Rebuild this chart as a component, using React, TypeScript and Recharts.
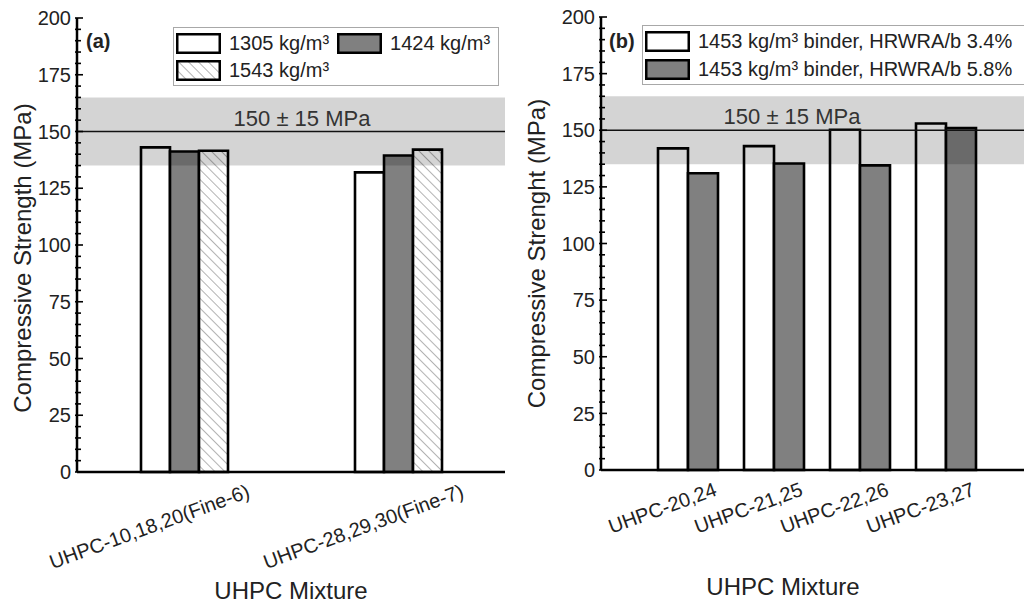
import React from "react";
import {
  BarChart,
  Bar,
  XAxis,
  YAxis,
  ReferenceArea,
  ReferenceLine,
  Legend,
  Label,
} from "recharts";

const FONT = '"Liberation Sans", Arial, Helvetica, sans-serif';

// panel (a): binder content
const mixturesA = ["UHPC-10,18,20(Fine-6)", "UHPC-28,29,30(Fine-7)"];
const binder1305 = [143, 132];
const binder1424 = [141.2, 139.4];
const binder1543 = [141.5, 142];
const namesA = ["1305 kg/m³", "1424 kg/m³", "1543 kg/m³"];

// panel (b): HRWRA dosage
const mixturesB = ["UHPC-20,24", "UHPC-21,25", "UHPC-22,26", "UHPC-23,27"];
const hrwra34 = [142, 143, 150.2, 153];
const hrwra58 = [131, 135.3, 134.5, 151];
const namesB = [
  "1453 kg/m³ binder, HRWRA/b 3.4%",
  "1453 kg/m³ binder, HRWRA/b 5.8%",
];

const strengthTicks = [
  0, 5, 10, 15, 20, 25, 30, 35, 40, 45, 50, 55, 60, 65, 70, 75, 80, 85, 90, 95,
  100, 105, 110, 115, 120, 125, 130, 135, 140, 145, 150, 155, 160, 165, 170,
  175, 180, 185, 190, 195, 200,
];
const targetStrength = 150;
const targetTolerance = 15;

const dataA = mixturesA.map((m, i) => ({
  mixture: m,
  d1305: binder1305[i],
  d1424: binder1424[i],
  d1543: binder1543[i],
}));

const dataB = mixturesB.map((m, i) => ({
  mixture: m,
  low: hrwra34[i],
  high: hrwra58[i],
}));

const WHITE = "#ffffff";
const GRAY = "#808080";
const HATCH = "url(#hatch1543)";
const axisStyle = { stroke: "#000", strokeWidth: 2.5 };
const BAR_STROKE = 2.6;

function YTick(props: any) {
  const { x, y, payload } = props;
  const major = payload.value % 25 === 0;
  return (
    <g>
      <line
        x1={x - 2}
        x2={x + (major ? 6 : 4)}
        y1={y}
        y2={y}
        stroke="#000"
        strokeWidth={1.6}
      />
      {major && (
        <text
          x={x - 6}
          y={y}
          dy="0.36em"
          textAnchor="end"
          fontSize={20}
          fontFamily={FONT}
          fill="#222"
        >
          {payload.value}
        </text>
      )}
    </g>
  );
}

function XTick(props: any) {
  const { x, y, payload, endDx } = props;
  return (
    <text
      transform={`translate(${x + endDx}, ${y + 25}) rotate(-20)`}
      textAnchor="end"
      fontSize={20}
      fontFamily={FONT}
      fill="#222"
    >
      {payload.value}
    </text>
  );
}

function BoxLegend({
  items,
  width,
  rowGap,
}: {
  items: { name: string; fill: string }[];
  width: number;
  rowGap: number;
}) {
  return (
    <div
      style={{
        width,
        boxSizing: "border-box",
        border: "1.5px solid #a8a8a8",
        background: "#fff",
        padding: "5px 0 4px 2px",
        display: "flex",
        flexWrap: "wrap",
        columnGap: 8,
        rowGap,
        fontFamily: FONT,
        fontSize: 20,
        lineHeight: "21px",
        color: "#222",
      }}
    >
      {items.map((it) => (
        <div
          key={it.name}
          style={{ display: "flex", alignItems: "center", gap: 8, whiteSpace: "nowrap" }}
        >
          <svg width={45} height={21} style={{ display: "block" }}>
            <rect
              x={1.25}
              y={1.25}
              width={42.5}
              height={18.5}
              fill={it.fill}
              stroke="#000"
              strokeWidth={2.5}
            />
          </svg>
          <span>{it.name}</span>
        </div>
      ))}
    </div>
  );
}

function targetLabel(dx: number) {
  return (props: any) => {
    const vb = props.viewBox;
    return (
      <text
        x={vb.x + vb.width / 2 + dx}
        y={vb.y - 6}
        textAnchor="middle"
        fontSize={22}
        fontFamily={FONT}
        fill="#333"
      >
        {`${targetStrength} ± ${targetTolerance} MPa`}
      </text>
    );
  };
}

function xTitle(dx: number, bottomGap: number) {
  return (props: any) => {
    const vb = props.viewBox;
    return (
      <text
        x={vb.x + vb.width / 2 + dx}
        y={vb.y + vb.height - bottomGap}
        textAnchor="middle"
        fontSize={24}
        fontFamily={FONT}
        fill="#222"
      >
        UHPC Mixture
      </text>
    );
  };
}

function yTitle(text: string, cx: number, dy: number) {
  return (props: any) => {
    const vb = props.viewBox;
    const cy = vb.y + vb.height / 2 + dy;
    return (
      <text
        transform={`translate(${cx}, ${cy}) rotate(-90)`}
        textAnchor="middle"
        dominantBaseline="central"
        fontSize={24}
        fontFamily={FONT}
        fill="#222"
      >
        {text}
      </text>
    );
  };
}

function PanelA() {
  const legendItems = [
    { name: namesA[0], fill: WHITE },
    { name: namesA[1], fill: GRAY },
    { name: namesA[2], fill: HATCH },
  ];
  return (
    <BarChart
      width={512}
      height={603}
      data={dataA}
      margin={{ top: 18, right: 7, bottom: 0, left: 0 }}
      barGap={0}
    >
      <defs>
        <pattern
          id="hatch1543"
          width={7}
          height={7}
          patternUnits="userSpaceOnUse"
          patternTransform="rotate(-45)"
        >
          <rect width={7} height={7} fill="#fff" />
          <line x1={0} y1={0} x2={0} y2={7} stroke="#8a8a8a" strokeWidth={1.3} />
        </pattern>
      </defs>
      <XAxis
        dataKey="mixture"
        height={131}
        interval={0}
        tickLine={false}
        tickSize={0}
        tickMargin={0}
        axisLine={axisStyle}
        tick={(p: any) => <XTick {...p} endDx={67} />}
      >
        <Label content={xTitle(0, 4)} />
      </XAxis>
      <XAxis
        xAxisId="top"
        dataKey="mixture"
        orientation="top"
        height={0}
        tick={false}
        tickLine={false}
        axisLine={axisStyle}
      />
      <YAxis
        width={77}
        domain={[0, 200]}
        ticks={strengthTicks}
        interval={0}
        tickLine={false}
        tickSize={0}
        tickMargin={0}
        axisLine={axisStyle}
        tick={(p: any) => <YTick {...p} />}
      >
        <Label content={yTitle("Compressive Strength (MPa)", 22, 13)} />
      </YAxis>
      <YAxis
        yAxisId="right"
        orientation="right"
        width={0}
        domain={[0, 200]}
        tick={false}
        tickLine={false}
        axisLine={axisStyle}
      />
      <Bar dataKey="d1305" name={namesA[0]} fill={WHITE} stroke="#000" strokeWidth={BAR_STROKE} barSize={29} isAnimationActive={false} />
      <Bar dataKey="d1424" name={namesA[1]} fill={GRAY} stroke="#000" strokeWidth={BAR_STROKE} barSize={29} isAnimationActive={false} />
      <Bar dataKey="d1543" name={namesA[2]} fill={HATCH} stroke="#000" strokeWidth={BAR_STROKE} barSize={29} isAnimationActive={false} />
      <ReferenceArea
        xAxisId="top"
        y1={targetStrength - targetTolerance}
        y2={targetStrength + targetTolerance}
        fill="#000"
        fillOpacity={0.17}
        stroke="none"
        zIndex={350}
      />
      <ReferenceLine
        xAxisId="top"
        y={targetStrength}
        stroke="#111"
        strokeWidth={1.6}
        zIndex={400}
        label={targetLabel(11)}
      />
      <text x={86} y={48} fontSize={20} fontWeight="bold" fontFamily={FONT} fill="#222">
        (a)
      </text>
      <Legend
        layout="vertical"
        align="center"
        verticalAlign="middle"
        wrapperStyle={{ position: "absolute", left: 173, top: 27, width: 326 }}
        content={() => <BoxLegend items={legendItems} width={326} rowGap={6} />}
      />
    </BarChart>
  );
}

function PanelB() {
  const legendItems = [
    { name: namesB[0], fill: WHITE },
    { name: namesB[1], fill: GRAY },
  ];
  return (
    <BarChart
      width={530}
      height={603}
      data={dataB}
      margin={{ top: 17, right: 9, bottom: 0, left: 0 }}
      barGap={0}
    >
      <XAxis
        dataKey="mixture"
        height={133}
        interval={0}
        padding={{ left: 44, right: 44 }}
        tickLine={false}
        tickSize={0}
        tickMargin={0}
        axisLine={axisStyle}
        tick={(p: any) => <XTick {...p} endDx={30} />}
      >
        <Label content={xTitle(-34, 8)} />
      </XAxis>
      <XAxis
        xAxisId="top"
        dataKey="mixture"
        orientation="top"
        height={0}
        tick={false}
        tickLine={false}
        axisLine={axisStyle}
      />
      <YAxis
        width={89}
        domain={[0, 200]}
        ticks={strengthTicks}
        interval={0}
        tickLine={false}
        tickSize={0}
        tickMargin={0}
        axisLine={axisStyle}
        tick={(p: any) => <YTick {...p} />}
      >
        <Label content={yTitle("Compressive Strenght (MPa)", 24, 10)} />
      </YAxis>
      <YAxis
        yAxisId="right"
        orientation="right"
        width={0}
        domain={[0, 200]}
        tick={false}
        tickLine={false}
        axisLine={axisStyle}
      />
      <Bar dataKey="low" name={namesB[0]} fill={WHITE} stroke="#000" strokeWidth={BAR_STROKE} barSize={30} isAnimationActive={false} />
      <Bar dataKey="high" name={namesB[1]} fill={GRAY} stroke="#000" strokeWidth={BAR_STROKE} barSize={30} isAnimationActive={false} />
      <ReferenceArea
        xAxisId="top"
        y1={targetStrength - targetTolerance}
        y2={targetStrength + targetTolerance}
        fill="#000"
        fillOpacity={0.17}
        stroke="none"
        zIndex={350}
      />
      <ReferenceLine
        xAxisId="top"
        y={targetStrength}
        stroke="#111"
        strokeWidth={1.6}
        zIndex={400}
        label={targetLabel(-25)}
      />
      <text x={97} y={48} fontSize={20} fontWeight="bold" fontFamily={FONT} fill="#222">
        (b)
      </text>
      <Legend
        layout="vertical"
        align="center"
        verticalAlign="middle"
        wrapperStyle={{ position: "absolute", left: 130, top: 25, width: 420 }}
        content={() => <BoxLegend items={legendItems} width={420} rowGap={7} />}
      />
    </BarChart>
  );
}

export default function App() {
  return (
    <div
      style={{
        position: "absolute",
        left: 0,
        top: 0,
        width: 1024,
        height: 603,
        overflow: "hidden",
        background: "#fff",
        fontFamily: FONT,
      }}
    >
      <div style={{ position: "absolute", left: 0, top: 0 }}>
        <PanelA />
      </div>
      <div style={{ position: "absolute", left: 512, top: 0 }}>
        <PanelB />
      </div>
    </div>
  );
}
